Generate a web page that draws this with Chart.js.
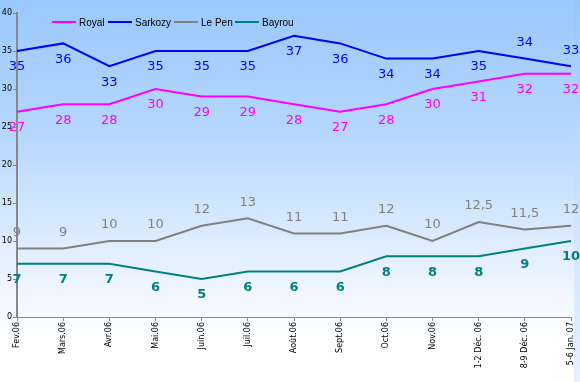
<!DOCTYPE html>
<html>
<head>
<meta charset="utf-8">
<script src="https://cdn.jsdelivr.net/npm/chart.js@4/dist/chart.umd.min.js"></script>
<style>
  html, body { margin: 0; padding: 0; }
  body { width: 580px; height: 382px; overflow: hidden; background: #eaf2ff; }
  #wrap { position: absolute; left: 0; top: 0; width: 580px; height: 382px; }
</style>
</head>
<body>
<div id="wrap"><canvas id="poll"></canvas></div>
<script>
const months = ['Fev.06', 'Mars.06', 'Avr.06', 'Mai.06', 'Juin.06', 'Juil.06', 'Août.06',
    'Sept.06', 'Oct.06', 'Nov.06', '1-2 Déc. 06', '8-9 Déc. 06', '5-6 Jan. 07'];
const royal   = [27, 28, 28, 30, 29, 29, 28, 27, 28, 30, 31, 32, 32];
const sarkozy = [35, 36, 33, 35, 35, 35, 37, 36, 34, 34, 35, 34, 33];
const lePen   = [9, 9, 10, 10, 12, 13, 11, 11, 12, 10, 12.5, 11.5, 12];
const bayrou  = [7, 7, 7, 6, 5, 6, 6, 6, 8, 8, 8, 9, 10];
// label placement: 1 = above the point, -1 = below
const sarkozySide = [-1, -1, -1, -1, -1, -1, -1, -1, -1, -1, -1, 1, 1];

const font = '"DejaVu Sans", Verdana, sans-serif';

// page background gradient (plus the pale strip on the right edge)
const bgPlugin = {
    id: 'bg',
    beforeDraw(chart) {
        const { ctx, width, height } = chart;
        const g = ctx.createLinearGradient(0, 0, 0, height);
        g.addColorStop(0, '#99c9fd');
        g.addColorStop(0.35, '#b6d7fd');
        g.addColorStop(0.75, '#eef5ff');
        g.addColorStop(0.9, '#ffffff');
        g.addColorStop(1, '#ffffff');
        ctx.save();
        ctx.fillStyle = g;
        ctx.fillRect(0, 0, width, height);
        const g2 = ctx.createLinearGradient(0, 0, 0, height);
        g2.addColorStop(0, '#94c6fb');
        g2.addColorStop(0.6, '#d2e4fd');
        g2.addColorStop(1, '#e6f0ff');
        ctx.fillStyle = g2;
        ctx.fillRect(width - 6, 0, 6, height);
        ctx.restore();
    }
};

// value labels next to each point
const labelPlugin = {
    id: 'valueLabels',
    afterDatasetsDraw(chart) {
        const ctx = chart.ctx;
        ctx.save();
        ctx.textAlign = 'center';
        ctx.textBaseline = 'middle';
        chart.data.datasets.forEach((ds, i) => {
            const meta = chart.getDatasetMeta(i);
            ctx.fillStyle = ds.borderColor;
            ctx.font = (ds.labelBold ? 'bold ' : '') + '13px ' + font;
            meta.data.forEach((pt, j) => {
                const side = ds.labelSide[j];
                const txt = String(ds.data[j]).replace('.', ',');
                ctx.fillText(txt, pt.x, pt.y - side * 16);
            });
        });
        ctx.restore();
    }
};

// simple line-sample legend
const legendX = [52, 108, 174, 235];
const legendPlugin = {
    id: 'lineLegend',
    afterDraw(chart) {
        const ctx = chart.ctx;
        ctx.save();
        ctx.font = '10px "Liberation Sans", Arial, sans-serif';
        ctx.textBaseline = 'middle';
        const y = 22;
        chart.data.datasets.forEach((ds, i) => {
            const x = legendX[i];
            ctx.strokeStyle = ds.borderColor;
            ctx.lineWidth = 2;
            ctx.beginPath();
            ctx.moveTo(x, y);
            ctx.lineTo(x + 24, y);
            ctx.stroke();
            ctx.fillStyle = '#000';
            ctx.fillText(ds.label, x + 27, y + 1);
        });
        ctx.restore();
    }
};

const below = months.map(() => -1);
const above = months.map(() => 1);

new Chart(document.getElementById('poll'), {
    type: 'line',
    data: {
        labels: months,
        datasets: [
            { label: 'Royal', data: royal, borderColor: '#ff00ff', labelSide: below },
            { label: 'Sarkozy', data: sarkozy, borderColor: '#0000ff', labelSide: sarkozySide },
            { label: 'Le Pen', data: lePen, borderColor: '#808080', labelSide: above },
            { label: 'Bayrou', data: bayrou, borderColor: '#008080', labelSide: below, labelBold: true }
        ]
    },
    options: {
        responsive: true,
        maintainAspectRatio: false,
        animation: false,
        layout: { padding: { top: 13, right: 9, left: 0, bottom: 0 } },
        elements: {
            line: { borderWidth: 2, tension: 0 },
            point: { radius: 0 }
        },
        plugins: {
            legend: { display: false },
            tooltip: { enabled: false }
        },
        scales: {
            x: {
                offset: false,
                grid: { drawOnChartArea: false, color: '#888', tickLength: 4 },
                border: { color: '#888', width: 1 },
                ticks: {
                    color: '#000',
                    font: { family: font, size: 8 },
                    minRotation: 90,
                    maxRotation: 90,
                    autoSkip: false,
                    padding: 1
                },
                afterFit: s => { s.height = 65; s.paddingLeft = 0; s.paddingRight = 0; }
            },
            y: {
                min: 0,
                max: 40,
                grid: { drawOnChartArea: false, color: '#888', tickLength: 4 },
                border: { color: '#888', width: 2 },
                ticks: {
                    stepSize: 5,
                    color: '#000',
                    font: { family: font, size: 8 },
                    padding: 1
                },
                afterFit: s => { s.width = 17; s.paddingTop = 0; s.paddingBottom = 0; }
            }
        }
    },
    plugins: [bgPlugin, labelPlugin, legendPlugin]
});
</script>
</body>
</html>
